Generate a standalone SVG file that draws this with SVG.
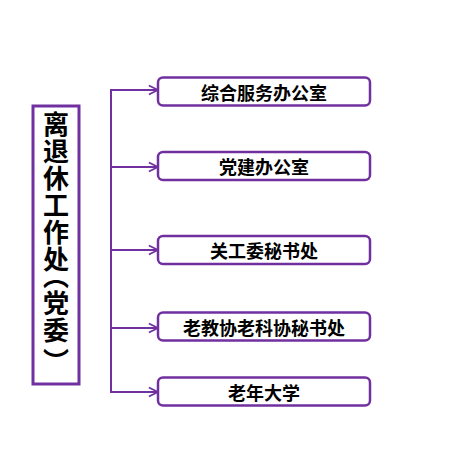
<svg xmlns="http://www.w3.org/2000/svg" width="450" height="460" viewBox="0 0 450 460">
<style>
.box{fill:#fff;stroke:#7030A0;stroke-width:2.5}
.lbl{font-family:"Noto Sans CJK SC","Noto Sans",sans-serif;font-weight:bold;font-size:18px;fill:#000;text-anchor:middle;dominant-baseline:central}
.vt{font-family:"Noto Sans CJK SC","Noto Sans",sans-serif;font-weight:bold;font-size:26px;fill:#000;text-anchor:middle;dominant-baseline:central}
.conn{stroke:#7030A0;stroke-width:2;fill:none}
</style>
<defs>
<marker id="arr" viewBox="0 0 10 10" refX="9" refY="5" markerWidth="9" markerHeight="9" markerUnits="userSpaceOnUse" orient="auto" overflow="visible">
<path d="M0,0 L10,5 L0,10" fill="none" stroke="#7030A0" stroke-width="2"/>
</marker>
</defs>
<rect width="450" height="460" fill="#fff"/>
<g id="root">
<rect x="33" y="106" width="46" height="278" fill="#fff" stroke="#7030A0" stroke-width="3"/>
<text class="vt"><tspan x="56" y="122">离</tspan><tspan x="56" y="149">退</tspan><tspan x="56" y="176">休</tspan><tspan x="56" y="203">工</tspan><tspan x="56" y="230">作</tspan><tspan x="56" y="257">处</tspan><tspan x="56" y="274">︵</tspan><tspan x="56" y="301">党</tspan><tspan x="56" y="328">委</tspan><tspan x="56" y="359">︶</tspan></text>
</g>
<g id="connectors">
<path class="conn" d="M111,89 L111,393"/>
<path class="conn" d="M111,90 L157,90" marker-end="url(#arr)"/>
<path class="conn" d="M111,167 L157,167" marker-end="url(#arr)"/>
<path class="conn" d="M111,250 L157,250" marker-end="url(#arr)"/>
<path class="conn" d="M111,328 L157,328" marker-end="url(#arr)"/>
<path class="conn" d="M111,392 L157,392" marker-end="url(#arr)"/>
</g>
<g id="n1"><rect class="box" x="158" y="77.5" width="212" height="28" rx="5"/><text class="lbl" x="264" y="91.5">综合服务办公室</text></g>
<g id="n2"><rect class="box" x="158" y="152" width="212" height="28" rx="5"/><text class="lbl" x="264" y="166">党建办公室</text></g>
<g id="n3"><rect class="box" x="158" y="236" width="212" height="28" rx="5"/><text class="lbl" x="264" y="250">关工委秘书处</text></g>
<g id="n4"><rect class="box" x="158" y="312.5" width="212" height="28" rx="5"/><text class="lbl" x="264" y="326.5">老教协老科协秘书处</text></g>
<g id="n5"><rect class="box" x="158" y="377.5" width="212" height="28" rx="5"/><text class="lbl" x="264" y="391.5">老年大学</text></g>
</svg>
